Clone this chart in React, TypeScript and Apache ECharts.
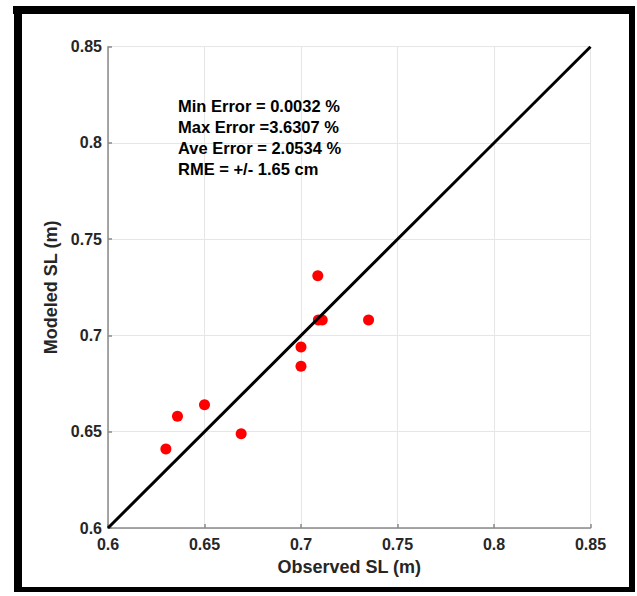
import React, { useEffect, useRef } from "react";
import * as echarts from "echarts";

const observedSL = [0.63, 0.636, 0.65, 0.669, 0.7, 0.7, 0.7087, 0.709, 0.711, 0.735];
const modeledSL = [0.641, 0.658, 0.664, 0.649, 0.694, 0.684, 0.731, 0.708, 0.708, 0.708];
const lineX = [0.6, 0.85];
const lineY = [0.6, 0.85];
const annotationLines = [
  "Min Error = 0.0032 %",
  "Max Error =3.6307 %",
  "Ave Error = 2.0534 %",
  "RME = +/- 1.65 cm",
];
const xAxisName = "Observed SL (m)";
const yAxisName = "Modeled SL (m)";

const FONT = "'Liberation Sans', Arial, Helvetica, sans-serif";

export default function App() {
  const ref = useRef<HTMLDivElement>(null);
  useEffect(() => {
    if (!ref.current) return;
    const chart = echarts.init(ref.current, null, { renderer: "svg" });
    const fmt = (v: number) => String(Math.round(v * 100) / 100);
    const axisCommon = {
      type: "value" as const,
      min: 0.6,
      max: 0.85,
      interval: 0.05,
      nameLocation: "middle" as const,
      nameTextStyle: { fontFamily: FONT, fontWeight: "bold", fontSize: 18, color: "#262626" },
      axisLine: { show: true, lineStyle: { color: "#8a8a8a", width: 1.5 } },
      axisTick: { show: true, inside: true, length: 4, lineStyle: { color: "#8a8a8a", width: 1.5 } },
      splitLine: { show: true, lineStyle: { color: "#e6e6e6", width: 1 } },
    };
    chart.setOption({
      animation: false,
      backgroundColor: "#ffffff",
      grid: { left: 108, right: 46.5, top: 46.7, bottom: 68, containLabel: false },
      xAxis: {
        ...axisCommon,
        name: xAxisName,
        nameGap: 30,
        axisLabel: {
          margin: 8,
          fontFamily: FONT,
          fontWeight: "bold",
          fontSize: 16,
          color: "#262626",
          formatter: fmt,
        },
      },
      yAxis: {
        ...axisCommon,
        name: yAxisName,
        nameGap: 44,
        axisLabel: {
          margin: 6,
          fontFamily: FONT,
          fontWeight: "bold",
          fontSize: 16,
          color: "#262626",
          formatter: fmt,
        },
      },
      series: [
        {
          type: "scatter",
          data: observedSL.map((x, i) => [x, modeledSL[i]]),
          symbol: "circle",
          symbolSize: 11,
          itemStyle: { color: "#ff0000", opacity: 1 },
          z: 2,
        },
        {
          type: "line",
          data: lineX.map((x, i) => [x, lineY[i]]),
          showSymbol: false,
          symbol: "none",
          lineStyle: { color: "#000000", width: 3 },
          z: 3,
        },
      ],
      graphic: [
        {
          type: "text",
          left: 178,
          top: 95,
          z: 10,
          style: {
            text: annotationLines.join("\n"),
            font: `bold 16.5px ${FONT}`,
            fill: "#000000",
            lineHeight: 21,
          },
        },
        { type: "rect", shape: { x: 14, y: 6, width: 8, height: 586 }, style: { fill: "#000" }, z: 20 },
        { type: "rect", shape: { x: 13, y: 6, width: 622, height: 8 }, style: { fill: "#000" }, z: 20 },
        { type: "rect", shape: { x: 629, y: 6, width: 6, height: 586 }, style: { fill: "#000" }, z: 20 },
        { type: "rect", shape: { x: 14, y: 587, width: 621, height: 5 }, style: { fill: "#000" }, z: 20 },
      ],
    });
    return () => chart.dispose();
  }, []);
  return (
    <div
      ref={ref}
      style={{ position: "fixed", left: 0, top: 0, width: 637, height: 596, background: "#fff" }}
    />
  );
}
